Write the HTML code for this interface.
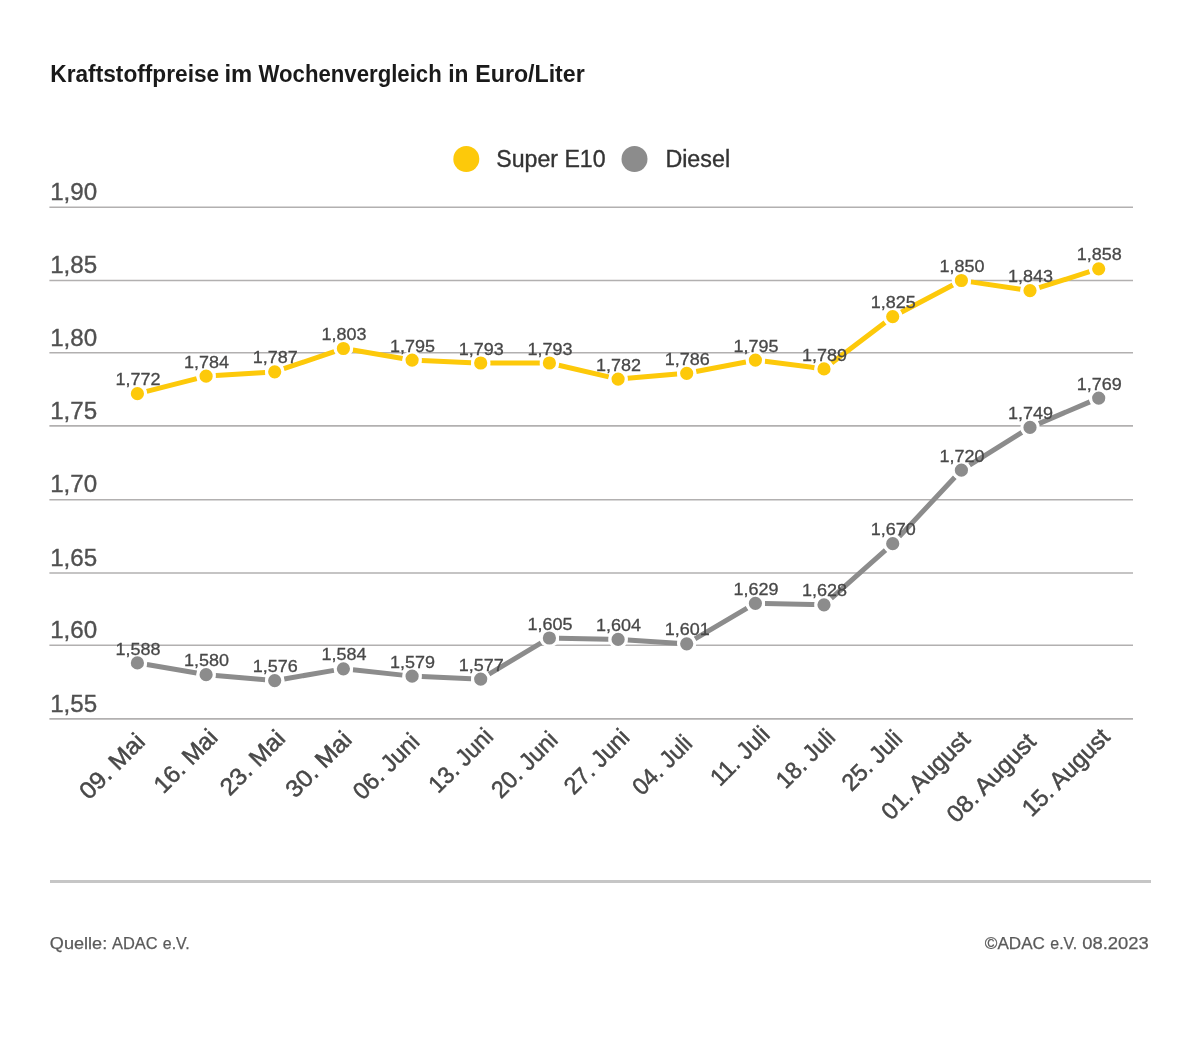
<!DOCTYPE html>
<html><head><meta charset="utf-8"><title>Kraftstoffpreise</title>
<style>
html,body{margin:0;padding:0;background:#fff;}
body{width:1200px;height:1053px;overflow:hidden;font-family:"Liberation Sans",sans-serif;}
svg{display:block;}
text{font-family:"Liberation Sans",sans-serif;}
.t{font-weight:bold;font-size:23px;fill:#1a1a1a;}
.lg{font-size:23px;fill:#333;stroke:#333;stroke-width:.35;}
.ya{font-size:23px;fill:#505050;stroke:#505050;stroke-width:.35;}
.dl{font-size:17px;fill:#484848;stroke:#484848;stroke-width:.3;text-anchor:middle;}
.xl{font-size:24px;fill:#484848;stroke:#484848;stroke-width:.5;text-anchor:end;}
.ft{font-size:17.2px;fill:#5a5a5a;stroke:#5a5a5a;stroke-width:.25;}
</style></head><body>
<svg width="1200" height="1053" viewBox="0 0 1200 1053">
<rect width="1200" height="1053" fill="#ffffff"/>
<g opacity="0.9999">
<text class="t" x="50.25" y="82" textLength="169.00" lengthAdjust="spacingAndGlyphs">Kraftstoffpreise</text>
<text class="t" x="224.50" y="82" textLength="27.75" lengthAdjust="spacingAndGlyphs">im</text>
<text class="t" x="258.50" y="82" textLength="183.25" lengthAdjust="spacingAndGlyphs">Wochenvergleich</text>
<text class="t" x="448.25" y="82" textLength="20.25" lengthAdjust="spacingAndGlyphs">in</text>
<text class="t" x="475.25" y="82" textLength="109.50" lengthAdjust="spacingAndGlyphs">Euro/Liter</text>
<circle cx="466.3" cy="159" r="13" fill="#fdc90a"/>
<text class="lg" x="496.30" y="167.3" textLength="109.30" lengthAdjust="spacingAndGlyphs">Super E10</text>
<circle cx="634.5" cy="159" r="13" fill="#8c8c8c"/>
<text class="lg" x="665.40" y="167.3" textLength="64.70" lengthAdjust="spacingAndGlyphs">Diesel</text>
<line x1="49.4" x2="1133" y1="207.2" y2="207.2" stroke="#b2b0b0" stroke-width="1.6"/>
<text class="ya" x="50.20" y="199.9" textLength="47.00" lengthAdjust="spacingAndGlyphs">1,90</text>
<line x1="49.4" x2="1133" y1="280.5" y2="280.5" stroke="#b2b0b0" stroke-width="1.6"/>
<text class="ya" x="50.20" y="273.2" textLength="47.00" lengthAdjust="spacingAndGlyphs">1,85</text>
<line x1="49.4" x2="1133" y1="352.8" y2="352.8" stroke="#b2b0b0" stroke-width="1.6"/>
<text class="ya" x="50.20" y="345.5" textLength="47.00" lengthAdjust="spacingAndGlyphs">1,80</text>
<line x1="49.4" x2="1133" y1="425.9" y2="425.9" stroke="#b2b0b0" stroke-width="1.6"/>
<text class="ya" x="50.20" y="418.6" textLength="47.00" lengthAdjust="spacingAndGlyphs">1,75</text>
<line x1="49.4" x2="1133" y1="499.7" y2="499.7" stroke="#b2b0b0" stroke-width="1.6"/>
<text class="ya" x="50.20" y="492.4" textLength="47.00" lengthAdjust="spacingAndGlyphs">1,70</text>
<line x1="49.4" x2="1133" y1="573.0" y2="573.0" stroke="#b2b0b0" stroke-width="1.6"/>
<text class="ya" x="50.20" y="565.7" textLength="47.00" lengthAdjust="spacingAndGlyphs">1,65</text>
<line x1="49.4" x2="1133" y1="645.2" y2="645.2" stroke="#b2b0b0" stroke-width="1.6"/>
<text class="ya" x="50.20" y="637.9" textLength="47.00" lengthAdjust="spacingAndGlyphs">1,60</text>
<line x1="49.4" x2="1133" y1="718.9" y2="718.9" stroke="#b2b0b0" stroke-width="1.6"/>
<text class="ya" x="50.20" y="711.6" textLength="47.00" lengthAdjust="spacingAndGlyphs">1,55</text>
<path d="M146.86 664.51L196.60 673.06M215.63 675.50L265.16 679.75M284.19 678.95L333.93 670.41M352.94 669.81L402.51 675.13M421.65 676.57L471.13 678.69M488.96 674.17L541.15 642.91M558.98 638.18L608.45 639.22M627.63 640.03L677.13 643.15M694.99 638.88L747.11 608.20M764.98 603.53L814.44 604.57M831.22 598.39L885.53 550.06M899.26 536.66L954.82 477.20M969.52 465.10L1021.89 432.45M1038.87 423.61L1089.87 401.88" fill="none" stroke="#8c8c8c" stroke-width="5"/>
<circle cx="137.4" cy="662.9" r="8.1" fill="#8c8c8c" stroke="#fff" stroke-width="3"/>
<circle cx="206.1" cy="674.7" r="8.1" fill="#8c8c8c" stroke="#fff" stroke-width="3"/>
<circle cx="274.7" cy="680.6" r="8.1" fill="#8c8c8c" stroke="#fff" stroke-width="3"/>
<circle cx="343.4" cy="668.8" r="8.1" fill="#8c8c8c" stroke="#fff" stroke-width="3"/>
<circle cx="412.1" cy="676.2" r="8.1" fill="#8c8c8c" stroke="#fff" stroke-width="3"/>
<circle cx="480.7" cy="679.1" r="8.1" fill="#8c8c8c" stroke="#fff" stroke-width="3"/>
<circle cx="549.4" cy="638.0" r="8.1" fill="#8c8c8c" stroke="#fff" stroke-width="3"/>
<circle cx="618.1" cy="639.4" r="8.1" fill="#8c8c8c" stroke="#fff" stroke-width="3"/>
<circle cx="686.7" cy="643.8" r="8.1" fill="#8c8c8c" stroke="#fff" stroke-width="3"/>
<circle cx="755.4" cy="603.3" r="8.1" fill="#8c8c8c" stroke="#fff" stroke-width="3"/>
<circle cx="824.0" cy="604.8" r="8.1" fill="#8c8c8c" stroke="#fff" stroke-width="3"/>
<circle cx="892.7" cy="543.7" r="8.1" fill="#8c8c8c" stroke="#fff" stroke-width="3"/>
<circle cx="961.4" cy="470.2" r="8.1" fill="#8c8c8c" stroke="#fff" stroke-width="3"/>
<circle cx="1030.0" cy="427.4" r="8.1" fill="#8c8c8c" stroke="#fff" stroke-width="3"/>
<circle cx="1098.7" cy="398.1" r="8.1" fill="#8c8c8c" stroke="#fff" stroke-width="3"/>
<text class="dl" x="137.9" y="654.5" textLength="45" lengthAdjust="spacingAndGlyphs">1,588</text>
<text class="dl" x="206.6" y="666.3" textLength="45" lengthAdjust="spacingAndGlyphs">1,580</text>
<text class="dl" x="275.2" y="672.2" textLength="45" lengthAdjust="spacingAndGlyphs">1,576</text>
<text class="dl" x="343.9" y="660.4" textLength="45" lengthAdjust="spacingAndGlyphs">1,584</text>
<text class="dl" x="412.6" y="667.8" textLength="45" lengthAdjust="spacingAndGlyphs">1,579</text>
<text class="dl" x="481.2" y="670.7" textLength="45" lengthAdjust="spacingAndGlyphs">1,577</text>
<text class="dl" x="549.9" y="629.6" textLength="45" lengthAdjust="spacingAndGlyphs">1,605</text>
<text class="dl" x="618.6" y="631.0" textLength="45" lengthAdjust="spacingAndGlyphs">1,604</text>
<text class="dl" x="687.2" y="635.4" textLength="45" lengthAdjust="spacingAndGlyphs">1,601</text>
<text class="dl" x="755.9" y="594.9" textLength="45" lengthAdjust="spacingAndGlyphs">1,629</text>
<text class="dl" x="824.5" y="596.4" textLength="45" lengthAdjust="spacingAndGlyphs">1,628</text>
<text class="dl" x="893.2" y="535.3" textLength="45" lengthAdjust="spacingAndGlyphs">1,670</text>
<text class="dl" x="961.9" y="461.8" textLength="45" lengthAdjust="spacingAndGlyphs">1,720</text>
<text class="dl" x="1030.5" y="419.0" textLength="45" lengthAdjust="spacingAndGlyphs">1,749</text>
<text class="dl" x="1099.2" y="389.7" textLength="45" lengthAdjust="spacingAndGlyphs">1,769</text>
<path d="M146.70 391.36L196.76 378.57M215.64 375.58L265.15 372.42M283.82 368.72L334.30 351.55M352.86 350.07L402.59 358.50M421.65 360.52L471.13 362.63M490.32 363.03L539.79 363.03M558.73 365.22L608.70 376.93M627.62 378.30L677.15 374.08M696.14 371.46L745.95 361.92M764.90 361.33L814.52 367.67M831.68 363.07L885.07 322.46M901.20 312.18L952.88 284.97M970.87 281.90L1020.54 289.22M1039.18 287.71L1089.55 271.68" fill="none" stroke="#fdc90a" stroke-width="5"/>
<circle cx="137.4" cy="393.7" r="8.1" fill="#fdc90a" stroke="#fff" stroke-width="3"/>
<circle cx="206.1" cy="376.2" r="8.1" fill="#fdc90a" stroke="#fff" stroke-width="3"/>
<circle cx="274.7" cy="371.8" r="8.1" fill="#fdc90a" stroke="#fff" stroke-width="3"/>
<circle cx="343.4" cy="348.5" r="8.1" fill="#fdc90a" stroke="#fff" stroke-width="3"/>
<circle cx="412.1" cy="360.1" r="8.1" fill="#fdc90a" stroke="#fff" stroke-width="3"/>
<circle cx="480.7" cy="363.0" r="8.1" fill="#fdc90a" stroke="#fff" stroke-width="3"/>
<circle cx="549.4" cy="363.0" r="8.1" fill="#fdc90a" stroke="#fff" stroke-width="3"/>
<circle cx="618.1" cy="379.1" r="8.1" fill="#fdc90a" stroke="#fff" stroke-width="3"/>
<circle cx="686.7" cy="373.3" r="8.1" fill="#fdc90a" stroke="#fff" stroke-width="3"/>
<circle cx="755.4" cy="360.1" r="8.1" fill="#fdc90a" stroke="#fff" stroke-width="3"/>
<circle cx="824.0" cy="368.9" r="8.1" fill="#fdc90a" stroke="#fff" stroke-width="3"/>
<circle cx="892.7" cy="316.6" r="8.1" fill="#fdc90a" stroke="#fff" stroke-width="3"/>
<circle cx="961.4" cy="280.5" r="8.1" fill="#fdc90a" stroke="#fff" stroke-width="3"/>
<circle cx="1030.0" cy="290.6" r="8.1" fill="#fdc90a" stroke="#fff" stroke-width="3"/>
<circle cx="1098.7" cy="268.8" r="8.1" fill="#fdc90a" stroke="#fff" stroke-width="3"/>
<text class="dl" x="137.9" y="385.3" textLength="45" lengthAdjust="spacingAndGlyphs">1,772</text>
<text class="dl" x="206.6" y="367.8" textLength="45" lengthAdjust="spacingAndGlyphs">1,784</text>
<text class="dl" x="275.2" y="363.4" textLength="45" lengthAdjust="spacingAndGlyphs">1,787</text>
<text class="dl" x="343.9" y="340.1" textLength="45" lengthAdjust="spacingAndGlyphs">1,803</text>
<text class="dl" x="412.6" y="351.7" textLength="45" lengthAdjust="spacingAndGlyphs">1,795</text>
<text class="dl" x="481.2" y="354.6" textLength="45" lengthAdjust="spacingAndGlyphs">1,793</text>
<text class="dl" x="549.9" y="354.6" textLength="45" lengthAdjust="spacingAndGlyphs">1,793</text>
<text class="dl" x="618.6" y="370.7" textLength="45" lengthAdjust="spacingAndGlyphs">1,782</text>
<text class="dl" x="687.2" y="364.9" textLength="45" lengthAdjust="spacingAndGlyphs">1,786</text>
<text class="dl" x="755.9" y="351.7" textLength="45" lengthAdjust="spacingAndGlyphs">1,795</text>
<text class="dl" x="824.5" y="360.5" textLength="45" lengthAdjust="spacingAndGlyphs">1,789</text>
<text class="dl" x="893.2" y="308.2" textLength="45" lengthAdjust="spacingAndGlyphs">1,825</text>
<text class="dl" x="961.9" y="272.1" textLength="45" lengthAdjust="spacingAndGlyphs">1,850</text>
<text class="dl" x="1030.5" y="282.2" textLength="45" lengthAdjust="spacingAndGlyphs">1,843</text>
<text class="dl" x="1099.2" y="260.4" textLength="45" lengthAdjust="spacingAndGlyphs">1,858</text>
<text class="xl" transform="translate(146.50,743.20) rotate(-45)" textLength="81.39" lengthAdjust="spacingAndGlyphs">09. Mai</text>
<text class="xl" transform="translate(218.93,739.00) rotate(-45)" textLength="78.56" lengthAdjust="spacingAndGlyphs">16. Mai</text>
<text class="xl" transform="translate(286.56,740.00) rotate(-45)" textLength="80.40" lengthAdjust="spacingAndGlyphs">23. Mai</text>
<text class="xl" transform="translate(353.19,741.20) rotate(-45)" textLength="81.81" lengthAdjust="spacingAndGlyphs">30. Mai</text>
<text class="xl" transform="translate(420.81,743.00) rotate(-45)" textLength="81.94" lengthAdjust="spacingAndGlyphs">06. Juni</text>
<text class="xl" transform="translate(494.64,738.00) rotate(-45)" textLength="79.68" lengthAdjust="spacingAndGlyphs">13. Juni</text>
<text class="xl" transform="translate(559.27,741.20) rotate(-45)" textLength="82.36" lengthAdjust="spacingAndGlyphs">20. Juni</text>
<text class="xl" transform="translate(630.90,738.80) rotate(-45)" textLength="80.67" lengthAdjust="spacingAndGlyphs">27. Juni</text>
<text class="xl" transform="translate(693.73,744.80) rotate(-45)" textLength="73.22" lengthAdjust="spacingAndGlyphs">04. Juli</text>
<text class="xl" transform="translate(771.16,736.00) rotate(-45)" textLength="72.51" lengthAdjust="spacingAndGlyphs">11. Juli</text>
<text class="xl" transform="translate(836.59,739.00) rotate(-45)" textLength="71.81" lengthAdjust="spacingAndGlyphs">18. Juli</text>
<text class="xl" transform="translate(903.61,740.00) rotate(-45)" textLength="73.79" lengthAdjust="spacingAndGlyphs">25. Juli</text>
<text class="xl" transform="translate(971.44,740.70) rotate(-45)" textLength="113.79" lengthAdjust="spacingAndGlyphs">01. August</text>
<text class="xl" transform="translate(1037.37,743.10) rotate(-45)" textLength="114.50" lengthAdjust="spacingAndGlyphs">08. August</text>
<text class="xl" transform="translate(1111.30,738.30) rotate(-45)" textLength="112.38" lengthAdjust="spacingAndGlyphs">15. August</text>
<line x1="50" x2="1151" y1="881.5" y2="881.5" stroke="#c6c6c6" stroke-width="3"/>
<text class="ft" x="49.80" y="948.6" textLength="57.40" lengthAdjust="spacingAndGlyphs">Quelle:</text>
<text class="ft" x="112.00" y="948.6" textLength="45.70" lengthAdjust="spacingAndGlyphs">ADAC</text>
<text class="ft" x="162.80" y="948.6" textLength="26.90" lengthAdjust="spacingAndGlyphs">e.V.</text>
<text class="ft" x="984.80" y="948.6" textLength="60.20" lengthAdjust="spacingAndGlyphs">©ADAC</text>
<text class="ft" x="1050.30" y="948.6" textLength="26.90" lengthAdjust="spacingAndGlyphs">e.V.</text>
<text class="ft" x="1082.30" y="948.6" textLength="66.50" lengthAdjust="spacingAndGlyphs">08.2023</text>
</g>
</svg>
</body></html>
